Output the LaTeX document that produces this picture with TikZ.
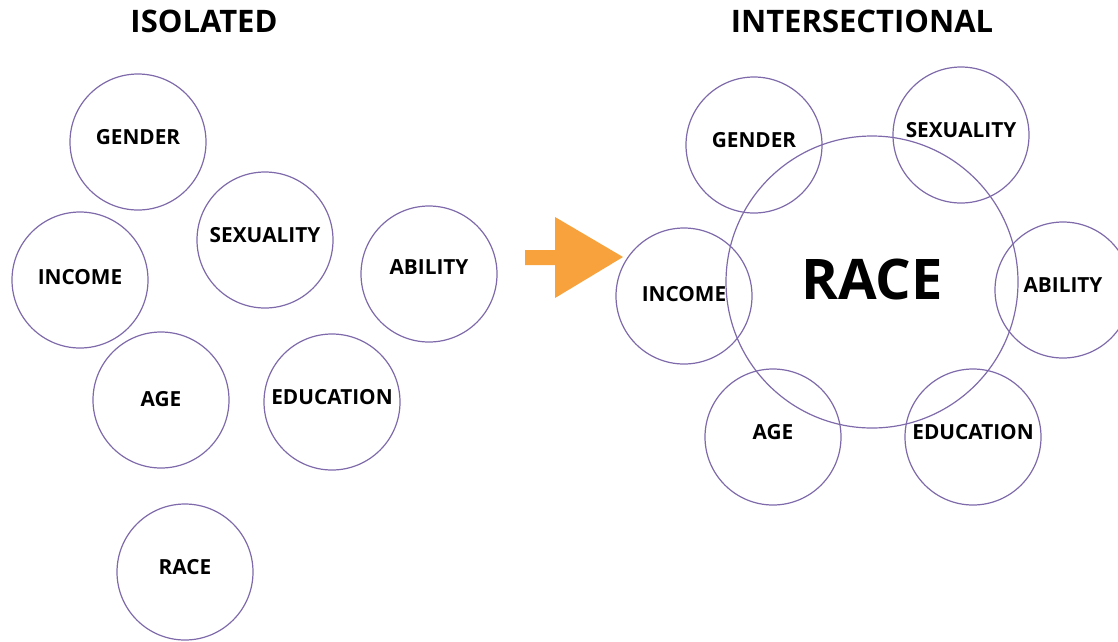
\documentclass[tikz,border=0pt]{standalone}
\usepackage{fontspec}
\setmainfont{Open Sans}
\definecolor{ringcol}{RGB}{126,106,170}
\definecolor{arrowcol}{RGB}{247,162,60}
\tikzset{
  ring/.style={circle, draw=ringcol, line width=1.2pt, minimum size=136pt, inner sep=0pt},
  bigring/.style={circle, draw=ringcol, line width=1.2pt, minimum size=292pt, inner sep=0pt},
  lbl/.style={font=\bfseries\fontsize{20.8}{24}\selectfont, inner sep=0pt, text=black},
  title/.style={font=\bfseries\fontsize{31}{36}\selectfont, inner sep=0pt, text=black},
  biglbl/.style={font=\bfseries\fontsize{56}{60}\selectfont, inner sep=0pt, text=black},
}
\begin{document}
\begin{tikzpicture}[x=1pt,y=-1pt]
\useasboundingbox (0,0) rectangle (1118,641);
% titles
\node[title] (t1) at (204,21) {ISOLATED};
\node[title] (t2) at (862,21) {INTERSECTIONAL};
% left: isolated
\node[ring] (lgender) at (138,142) {};
\node[ring] (lsex) at (265,240) {};
\node[ring] (linc) at (80,280) {};
\node[ring] (labil) at (429,274) {};
\node[ring] (lage) at (161,400) {};
\node[ring] (ledu) at (332,402) {};
\node[ring] (lrace) at (185,572) {};
\node[lbl] at ([yshift=5pt]lgender.center) {GENDER};
\node[lbl] at ([yshift=5pt]lsex.center) {SEXUALITY};
\node[lbl] at ([yshift=3pt]linc.center) {INCOME};
\node[lbl] at ([yshift=7pt]labil.center) {ABILITY};
\node[lbl] at ([yshift=1pt]lage.center) {AGE};
\node[lbl] at ([yshift=5pt]ledu.center) {EDUCATION};
\node[lbl] at ([yshift=5pt]lrace.center) {RACE};
% arrow
\fill[arrowcol] (525,250) -- (555,250) -- (555,217) -- (623,257) -- (555,298) -- (555,265) -- (525,265) -- cycle;
% right: intersectional
\node[bigring] (rrace) at (872,282) {};
\node[ring] (rgender) at (754,145) {};
\node[ring] (rsex) at (961,135) {};
\node[ring] (rinc) at (684,296) {};
\node[ring] (rabil) at (1063,290) {};
\node[ring] (rage) at (773,437) {};
\node[ring] (redu) at (973,437) {};
\node[biglbl] at ([yshift=3pt]rrace.center) {RACE};
\node[lbl] at ([yshift=5pt]rgender.center) {GENDER};
\node[lbl] at ([yshift=5pt]rsex.center) {SEXUALITY};
\node[lbl] at ([yshift=2pt]rinc.center) {INCOME};
\node[lbl] at ([yshift=5pt]rabil.center) {ABILITY};
\node[lbl] at ([yshift=5pt]rage.center) {AGE};
\node[lbl] at ([yshift=5pt]redu.center) {EDUCATION};
\end{tikzpicture}
\end{document}
